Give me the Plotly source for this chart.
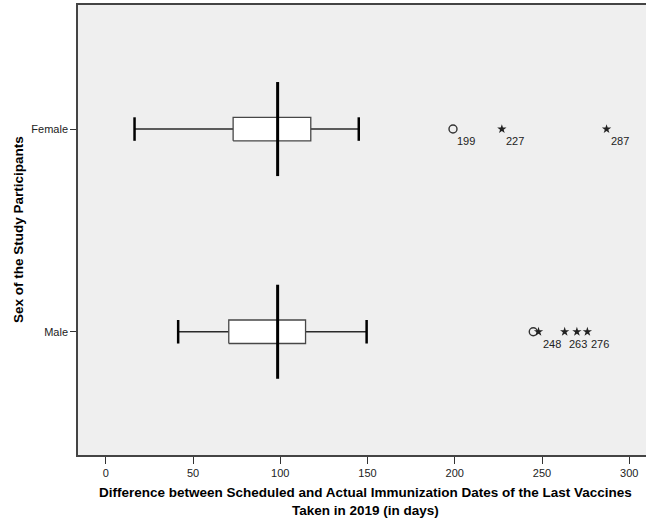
import plotly.graph_objects as go

# Box plot summary per sex (days between scheduled and actual immunization)
categories = ["Male", "Female"]
whisker_low = [41.5, 16.5]
q1 = [70.5, 73.0]
median = [98.5, 98.5]
q3 = [114.5, 117.5]
whisker_high = [149.5, 145.0]

# Outliers: value, symbol kind ("o" = mild, "*" = extreme), label shown
male_out_vals = [245, 248, 263, 270, 276]
male_out_kind = ["o", "*", "*", "*", "*"]
male_out_label = [False, True, True, False, True]
female_out_vals = [199, 227, 287]
female_out_kind = ["o", "*", "*"]
female_out_label = [True, True, True]

outliers = [
    (male_out_vals, male_out_kind, male_out_label),
    (female_out_vals, female_out_kind, female_out_label),
]

x_ticks = [0, 50, 100, 150, 200, 250, 300]

BOX_H = 0.058   # half height of box and caps (y units)
MED_H = 0.232   # half length of the median bar

fig = go.Figure()
annotations = []

for pos, cat in enumerate(categories):
    # whisker lines
    fig.add_trace(go.Scatter(
        x=[whisker_low[pos], q1[pos], None, q3[pos], whisker_high[pos]],
        y=[pos, pos, None, pos, pos],
        mode="lines", line=dict(color="#2a2a2a", width=1.4),
        hoverinfo="skip", showlegend=False))
    # whisker caps
    for wx in (whisker_low[pos], whisker_high[pos]):
        fig.add_trace(go.Scatter(
            x=[wx, wx], y=[pos - BOX_H, pos + BOX_H],
            mode="lines", line=dict(color="black", width=2.5),
            hoverinfo="skip", showlegend=False))
    # box
    fig.add_trace(go.Scatter(
        x=[q1[pos], q3[pos], q3[pos], q1[pos], q1[pos]],
        y=[pos - BOX_H, pos - BOX_H, pos + BOX_H, pos + BOX_H, pos - BOX_H],
        mode="lines", fill="toself", fillcolor="white",
        line=dict(color="#474747", width=1.3),
        hoverinfo="skip", showlegend=False))
    # median
    fig.add_trace(go.Scatter(
        x=[median[pos], median[pos]], y=[pos - MED_H, pos + MED_H],
        mode="lines", line=dict(color="black", width=3),
        hoverinfo="skip", showlegend=False))

    vals, kinds, labs = outliers[pos]
    for v, k, lab in zip(vals, kinds, labs):
        if k == "o":
            marker = dict(symbol="circle-open", size=8, color="#333333",
                          line=dict(width=1.4, color="#333333"))
        else:
            marker = dict(symbol="star", size=7, color="#222222",
                          line=dict(width=0))
        fig.add_trace(go.Scatter(
            x=[v], y=[pos], mode="markers", marker=marker,
            hoverinfo="skip", showlegend=False))
        if lab:
            annotations.append(dict(
                x=v, y=pos, xref="x", yref="y", text=str(v),
                showarrow=False, xshift=13, yshift=-12,
                font=dict(family="Liberation Sans, Arial", size=11, color="#222222")))

tick_font = dict(family="Liberation Sans, Arial", size=11, color="#222222")
title_font = dict(family="Liberation Sans, Arial", size=13.5, color="black")

annotations.append(dict(
    xref="paper", yref="paper", x=(365 - 78) / 568, y=-(501 - 455) / 450,
    text="<b>Difference between Scheduled and Actual Immunization Dates of the Last Vaccines"
         "<br>Taken in 2019 (in days)</b>",
    showarrow=False, xanchor="center", yanchor="middle", font=title_font))
annotations.append(dict(
    xref="paper", yref="paper", x=-(78 - 18) / 568, y=0.5,
    text="<b>Sex of the Study Participants</b>", textangle=-90,
    showarrow=False, xanchor="center", yanchor="middle", font=title_font))

fig.update_layout(
    width=646, height=523,
    margin=dict(l=78, r=0, t=5, b=68),
    paper_bgcolor="white", plot_bgcolor="#efefef",
    annotations=annotations,
    xaxis=dict(range=[-15.9, 309.6], tickvals=x_ticks,
               ticks="outside", ticklen=7, tickcolor="#333333", tickwidth=1,
               showline=True, linecolor="#444444", linewidth=1.5, mirror=True,
               showgrid=False, zeroline=False, tickfont=tick_font),
    yaxis=dict(range=[-0.608, 1.612], tickvals=[0, 1], ticktext=categories,
               ticks="outside", ticklen=6, tickcolor="#333333", tickwidth=1,
               showline=True, linecolor="#444444", linewidth=1.5, mirror=False,
               showgrid=False, zeroline=False, tickfont=tick_font),
)

fig.write_html("out.html")
